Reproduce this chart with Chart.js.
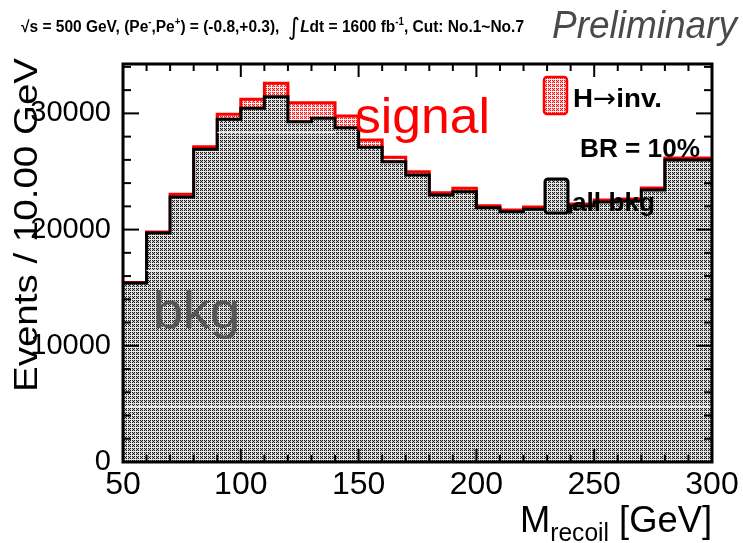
<!DOCTYPE html>
<html><head><meta charset="utf-8">
<script src="https://cdn.jsdelivr.net/npm/chart.js@4/dist/chart.umd.min.js"></script>
<style>html,body{margin:0;padding:0;background:#fff}#wrap{width:743px;height:543px}</style>
</head><body><div id="wrap"><canvas id="c" width="743" height="543"></canvas></div>
<script>
// ---- data ----
const binEdges = [50,60,70,80,90,100,110,120,130,140,150,160,170,180,190,200,210,220,230,240,250,260,270,280,290,300];
const bkgEvents = [15400,19710,22800,26910,29490,30440,31440,29290,29580,28770,27080,25840,24700,22980,23260,21880,21540,21750,21510,22030,22380,22460,23410,25990,25990];
const sigEvents = [50,80,240,220,430,770,1150,1630,1340,1010,630,380,280,200,290,180,150,190,180,170,170,170,170,170,170];
const xTickValues = [50,100,150,200,250,300];
const yTickValues = [0,10000,20000,30000];
const fillSeamLevels = [28425,16520,4845];
const yMax = 34250;

const totalEvents = bkgEvents.map((v,i)=>v+sigEvents[i]);
function stepPoints(vals){
  const pts = vals.map((v,i)=>({x:binEdges[i], y:v}));
  pts.push({x:binEdges[binEdges.length-1], y:vals[vals.length-1]});
  return pts;
}

function makePattern(fg, bg, light){
  const c = document.createElement('canvas'); c.width=4; c.height=4;
  const g = c.getContext('2d');
  g.fillStyle = light; g.fillRect(0,0,4,4);
  for (let y=0;y<3;y++) for (let x=0;x<3;x++){ g.fillStyle = ((x+y)%2===0)?fg:bg; g.fillRect(x,y,1,1); }
  return g.createPattern(c,'repeat');
}
const greyPat = makePattern('#1a1a1a','#bdbdbd','#e8e8e8');
const redPat = makePattern('#ff1010','#ffb4b4','#fff4f4');

const SANS = '"Liberation Sans", Arial, sans-serif';
const NARROW = '"Liberation Sans Narrow", "Liberation Sans", Arial, sans-serif';

function drawRuns(ctx, runs, x, y, targetWidth){
  let W = 0;
  runs.forEach(r=>{ ctx.font = r.font; r.w = ctx.measureText(r.text).width; W += r.w; });
  const sx = targetWidth ? targetWidth / W : 1;
  ctx.save();
  ctx.translate(x,y); ctx.scale(sx,1);
  ctx.textBaseline = 'alphabetic'; ctx.textAlign = 'left';
  let cx = 0;
  runs.forEach(r=>{ ctx.font = r.font; ctx.fillStyle = r.color || '#000'; ctx.fillText(r.text, cx, r.dy||0); cx += r.w; });
  ctx.restore();
}

const decor = {
  id:'decor',
  beforeDatasetDraw(chart, args){
    // nothing
  },
  afterDatasetDraw(chart, args){
    // light seams of the fill pattern inside the background histogram (rendering artefact of the original)
    if (args.index !== 0) return;
    const {ctx, scales:{x,y}} = chart;
    ctx.save();
    ctx.strokeStyle = 'rgba(255,255,255,0.85)'; ctx.lineWidth = 1.2;
    fillSeamLevels.forEach(lv=>{
      const py = Math.round(y.getPixelForValue(lv))+0.5;
      bkgEvents.forEach((v,i)=>{
        if (v > lv + 800){
          ctx.beginPath();
          ctx.moveTo(x.getPixelForValue(binEdges[i])+(i===0?2:0), py);
          ctx.lineTo(x.getPixelForValue(binEdges[i+1]), py);
          ctx.stroke();
        }
      });
    });
    ctx.restore();
  },
  afterDatasetsDraw(chart){
    const {ctx, chartArea:a, scales:{x,y}} = chart;
    ctx.save();
    ctx.strokeStyle = '#000';
    ctx.lineWidth = 2;
    const seg=(x1,y1,x2,y2)=>{ctx.beginPath();ctx.moveTo(x1,y1);ctx.lineTo(x2,y2);ctx.stroke();};
    for (let v=binEdges[0]; v<=binEdges[binEdges.length-1]; v+=10){
      const px = x.getPixelForValue(v); const major = (v%50===0); const L = major?13:7;
      seg(px,a.bottom,px,a.bottom-L); seg(px,a.top,px,a.top+L);
    }
    for (let v=0; v<=yMax; v+=2000){
      const py = y.getPixelForValue(v); const major = (v%10000===0); const L = major?16:8;
      seg(a.left,py,a.left+L,py); seg(a.right,py,a.right-L,py);
    }
    ctx.lineWidth = 3;
    ctx.strokeRect(a.left,a.top,a.right-a.left,a.bottom-a.top);
    ctx.restore();
  },
  afterDraw(chart){
    const ctx = chart.ctx;
    // title
    const b = 'bold 16px '+SANS, sup = 'bold 10px '+SANS;
    drawRuns(ctx,[
      {text:'√s = 500 GeV, (Pe',font:b},{text:'-',font:sup,dy:-7},{text:',Pe',font:b},{text:'+',font:sup,dy:-7},
      {text:') = (-0.8,+0.3),  ',font:b},{text:'∫',font:'24px "DejaVu Sans"',dy:3},{text:'L',font:'bold italic 16px '+SANS},
      {text:'dt = 1600 fb',font:b},{text:'-1',font:sup,dy:-7},{text:', Cut: No.1~No.7',font:b}
    ], 21, 32, 503);
    drawRuns(ctx,[{text:'Preliminary',font:'italic 38px '+SANS,color:'#4a4a4a'}], 552, 38, 185);
    // axis titles
    drawRuns(ctx,[{text:'M',font:'37px '+SANS},{text:'recoil',font:'25px '+SANS,dy:9},{text:' [GeV]',font:'37px '+SANS}], 520, 532, 192);
    ctx.save(); ctx.translate(37,392); ctx.rotate(-Math.PI/2);
    drawRuns(ctx,[{text:'Events / 10.00 GeV',font:'33px '+SANS}], 0, 0, 334);
    ctx.restore();
    // annotations
    drawRuns(ctx,[{text:'signal',font:'50px '+SANS,color:'#ff0000'}], 355, 133, 135);
    drawRuns(ctx,[{text:'bkg',font:'52px '+SANS,color:'#555'}], 153, 328, 87);
    // legend
    ctx.save();
    ctx.fillStyle = redPat; ctx.strokeStyle='#ff0000'; ctx.lineWidth=2.5;
    ctx.beginPath(); ctx.roundRect(544,77,23,37,3); ctx.fill(); ctx.stroke();
    ctx.fillStyle = greyPat; ctx.strokeStyle='#000'; ctx.lineWidth=3;
    ctx.beginPath(); ctx.roundRect(545,179,23,34,3); ctx.fill(); ctx.stroke();
    ctx.restore();
    const lb = 'bold 26px '+SANS;
    drawRuns(ctx,[{text:'H',font:lb},{text:'→',font:'26px "DejaVu Sans"'},{text:'inv.',font:lb}], 573, 107, 89);
    drawRuns(ctx,[{text:'BR = 10%',font:lb}], 580, 157, 120);
    drawRuns(ctx,[{text:'all bkg',font:lb}], 572, 211, 83);
  }
};

new Chart(document.getElementById('c'), {
  type:'line',
  data:{ datasets:[
    { label:'all bkg', data: stepPoints(bkgEvents), stepped:'before', borderColor:'#000', borderWidth:3,
      backgroundColor: greyPat, fill:'origin', pointRadius:0, order:0 },
    { label:'H→inv.', data: stepPoints(totalEvents), stepped:'before', borderColor:'#ff0000', borderWidth:3,
      backgroundColor: redPat, fill:'origin', pointRadius:0, order:1 }
  ]},
  options:{
    responsive:false, animation:false, events:[],
    layout:{padding:{left:0,right:31,top:64,bottom:0}},
    plugins:{legend:{display:false}, tooltip:{enabled:false}},
    scales:{
      x:{ type:'linear', min:binEdges[0], max:binEdges[binEdges.length-1],
          afterFit(s){ s.height = 81; },
          afterBuildTicks(s){ s.ticks = xTickValues.map(v=>({value:v})); },
          grid:{display:false, drawTicks:false}, border:{display:false},
          ticks:{ padding:4, color:'#000', font:{family:NARROW, size:32}, maxRotation:0, autoSkip:false,
                  callback:(v)=>String(v) } },
      y:{ type:'linear', min:0, max:yMax,
          afterFit(s){ s.width = 123; },
          afterBuildTicks(s){ s.ticks = yTickValues.map(v=>({value:v})); },
          grid:{display:false, drawTicks:false}, border:{display:false},
          ticks:{ padding:12, color:'#000', font:{family:NARROW, size:29}, autoSkip:false,
                  callback:(v)=>String(v) } }
    }
  },
  plugins:[decor]
});
</script></body></html>
